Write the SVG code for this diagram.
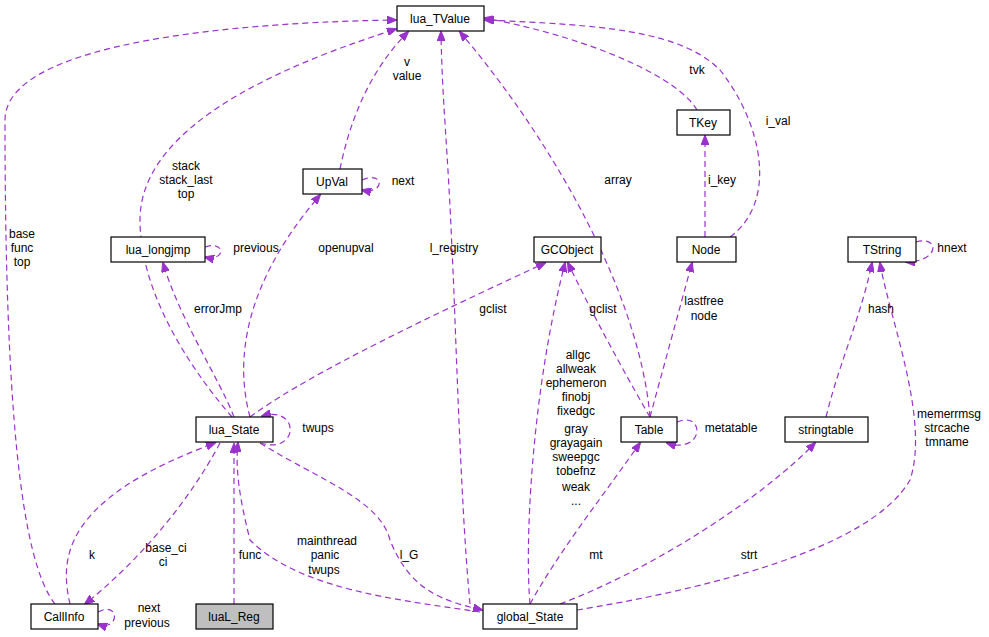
<svg xmlns="http://www.w3.org/2000/svg" width="989" height="637" viewBox="0 0 989 637">
<defs><marker id="a" markerWidth="10" markerHeight="8" refX="9" refY="4" orient="auto" markerUnits="userSpaceOnUse"><path d="M0,0 L10,4 L0,8 z" fill="#9a32cd" stroke="#9a32cd"/></marker></defs>
<style>
.n rect{fill:#fff;stroke:#000;stroke-width:1.2}
.n text,.l{font-family:"Liberation Sans",Arial,sans-serif;font-size:12px;text-anchor:middle}
.e path{fill:none;stroke:#9a32cd;stroke-width:1.2;stroke-dasharray:6,4;marker-end:url(#a)}
</style>
<rect width="989" height="637" fill="#fff"/>
<g id="edges" class="e">
<path d="M55,604 C20,560 5,400 5,120 C5,40 250,22 396,20"/>
<path d="M232,417 C200,380 140,300 140,220 C140,120 300,60 396,29"/>
<path d="M340,169 C350,120 370,70 408,32"/>
<path d="M470,604 C460,500 455,300 452,250 C448,150 442,100 441,32"/>
<path d="M650,417 C640,300 560,150 460,32"/>
<path d="M697,110 C680,80 600,40 485,18"/>
<path d="M730,237 C780,200 760,120 720,70 C680,30 600,25 485,20"/>
<path d="M705,237 L705,136"/>
<path d="M650,417 L692,263"/>
<path d="M650,417 C640,400 600,330 568,263"/>
<path d="M250,417 C300,380 400,330 545,263"/>
<path d="M530,604 C525,550 530,400 565,263"/>
<path d="M530,604 C560,550 600,500 640,443"/>
<path d="M560,604 C650,570 760,500 815,443"/>
<path d="M826,417 C840,360 860,320 872,263"/>
<path d="M577,610 C700,590 870,550 910,480 C930,420 890,320 880,263"/>
<path d="M250,417 C240,380 230,300 320,195"/>
<path d="M234,417 C220,380 180,320 163,263"/>
<path d="M234,604 L234,444"/>
<path d="M70,604 C60,560 60,500 215,443"/>
<path d="M220,443 C190,500 140,560 85,604"/>
<path d="M480,612 C400,600 300,590 250,540 C240,500 235,470 238,443"/>
<path d="M260,443 C320,480 380,500 390,540 C410,590 440,600 482,610"/>
<path d="M362,180 C385,170 385,195 362,190"/>
<path d="M205,247 C226,240 226,262 205,257"/>
<path d="M260,443 C300,455 300,405 262,416"/>
<path d="M677,422 C705,410 705,455 667,443"/>
<path d="M916,242 C940,235 940,262 906,262"/>
<path d="M98,612 C120,600 120,632 98,624"/>
</g>
<g class="l">
<text x="22" y="238">base</text><text x="22" y="252">func</text><text x="22" y="266">top</text>
<text x="186" y="170">stack</text><text x="186" y="184">stack_last</text><text x="186" y="198">top</text>
<text x="407" y="66">v</text><text x="407" y="80">value</text>
<text x="403" y="185">next</text>
<text x="256" y="252">previous</text>
<text x="346" y="252">openupval</text>
<text x="218" y="313">errorJmp</text>
<text x="493" y="313">gclist</text>
<text x="454" y="252">l_registry</text>
<text x="618" y="184">array</text>
<text x="697" y="74">tvk</text>
<text x="778" y="125">i_val</text>
<text x="722" y="184">i_key</text>
<text x="603" y="313">gclist</text>
<text x="704" y="305">lastfree</text><text x="704" y="320">node</text>
<text x="952" y="252">hnext</text>
<text x="881" y="313">hash</text>
<text x="578" y="359">allgc</text><text x="576" y="373">allweak</text><text x="576" y="387">ephemeron</text><text x="576" y="401">finobj</text><text x="576" y="415">fixedgc</text><text x="576" y="433">gray</text><text x="576" y="447">grayagain</text><text x="576" y="461">sweepgc</text><text x="576" y="475">tobefnz</text><text x="576" y="491">weak</text><text x="576" y="505">...</text>
<text x="731" y="432">metatable</text>
<text x="318" y="432">twups</text>
<text x="949" y="418">memerrmsg</text><text x="947" y="432">strcache</text><text x="947" y="446">tmname</text>
<text x="92" y="559">k</text>
<text x="166" y="552">base_ci</text><text x="163" y="566">ci</text>
<text x="250" y="559">func</text>
<text x="327" y="545">mainthread</text><text x="325" y="559">panic</text><text x="324" y="574">twups</text>
<text x="409" y="559">l_G</text>
<text x="596" y="559">mt</text>
<text x="749" y="559">strt</text>
<text x="149" y="612">next</text><text x="147" y="627">previous</text>
</g>
<g id="lua_TValue" class="n"><rect x="397" y="6" width="87" height="25"/><text x="440" y="23">lua_TValue</text></g>
<g id="TKey" class="n"><rect x="677" y="110" width="53" height="25"/><text x="703" y="127">TKey</text></g>
<g id="UpVal" class="n"><rect x="303" y="169" width="59" height="25"/><text x="332" y="186">UpVal</text></g>
<g id="lua_longjmp" class="n"><rect x="111" y="237" width="94" height="25"/><text x="158" y="254">lua_longjmp</text></g>
<g id="GCObject" class="n"><rect x="534" y="237" width="67" height="25"/><text x="567" y="254">GCObject</text></g>
<g id="Node" class="n"><rect x="677" y="237" width="59" height="25"/><text x="706" y="254">Node</text></g>
<g id="TString" class="n"><rect x="848" y="237" width="68" height="25"/><text x="882" y="254">TString</text></g>
<g id="lua_State" class="n"><rect x="196" y="417" width="77" height="25"/><text x="234" y="434">lua_State</text></g>
<g id="Table" class="n"><rect x="621" y="417" width="56" height="25"/><text x="649" y="434">Table</text></g>
<g id="stringtable" class="n"><rect x="785" y="417" width="83" height="25"/><text x="826" y="434">stringtable</text></g>
<g id="CallInfo" class="n"><rect x="31" y="604" width="67" height="25"/><text x="64" y="621">CallInfo</text></g>
<g id="luaL_Reg" class="n"><rect x="196" y="604" width="77" height="25" style="fill:#bfbfbf"/><text x="234" y="621">luaL_Reg</text></g>
<g id="global_State" class="n"><rect x="483" y="604" width="94" height="25"/><text x="530" y="621">global_State</text></g>
</svg>
